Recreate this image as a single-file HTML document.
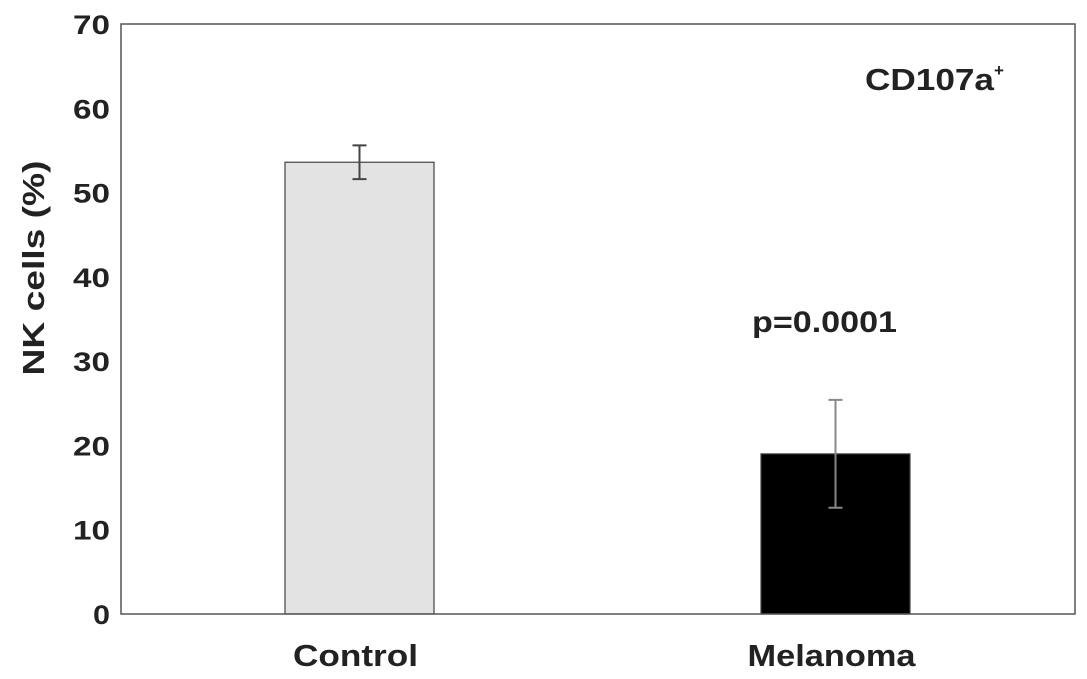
<!DOCTYPE html>
<html><head><meta charset="utf-8"><style>
html,body{margin:0;padding:0;background:#fff;}
svg{display:block;font-family:"Liberation Sans",Arial,sans-serif;}
</style></head><body>
<svg id="chart" width="1087" height="679" viewBox="0 0 1087 679">
<g id="plot"></g>
</svg>
<script>
const categories = ["Control", "Melanoma"];
const values = [53.6, 19.0];
const errors = [2.0, 6.4];
const yTicks = [0, 10, 20, 30, 40, 50, 60, 70];
const NS = "http://www.w3.org/2000/svg";
const L = 121, R = 1075, T = 24, B = 614, yMax = 70;
const yScale = v => B - (v / yMax) * (B - T);
const centers = [359.5, 835.5];
const barW = 149;
const fills = ["#e3e3e3", "#000"];
const errColors = ["#444", "#888"];
const g = document.getElementById("plot");
function mk(tag, attrs, text) {
  const e = document.createElementNS(NS, tag);
  for (const k in attrs) e.setAttribute(k, attrs[k]);
  if (text !== undefined) e.textContent = text;
  g.appendChild(e);
  return e;
}
yTicks.forEach(t => {
  const e = mk("text", {x: 110, y: yScale(t) + 10, "text-anchor": "end", "font-size": "27", "font-weight": "bold", fill: "#222", textLength: t === 0 ? 17 : 37, lengthAdjust: "spacingAndGlyphs"}, String(t));
  
  
});
categories.forEach((c, i) => {
  const x = centers[i];
  const r = mk("rect", {x: x - barW / 2, y: yScale(values[i]), width: barW, height: B - yScale(values[i]), fill: fills[i], stroke: "#444", "stroke-width": 1.2});
  
  
  const hi = yScale(values[i] + errors[i]), lo = yScale(values[i] - errors[i]);
  const eg = mk("path", {d: `M${x},${hi}V${lo}M${x-7},${hi}H${x+7}M${x-7},${lo}H${x+7}`, stroke: errColors[i], "stroke-width": 2, fill: "none"});
  
  
  const lt = mk("text", {x: x - 4, y: 666, "text-anchor": "middle", "font-size": "31", "font-weight": "bold", fill: "#222", textLength: i === 0 ? 125 : 168, lengthAdjust: "spacingAndGlyphs"}, c);
  
  
});
const frame = mk("rect", {x: L, y: T, width: R - L, height: B - T, fill: "none", stroke: "#555", "stroke-width": 1.5});


</script>
<script>
(function(){
const svg=document.getElementById("chart");
const NS="http://www.w3.org/2000/svg";
const t=document.createElementNS(NS,"text");


t.setAttribute("transform","translate(44,268) rotate(-90)");
t.setAttribute("text-anchor","middle");t.setAttribute("font-size","31");t.setAttribute("font-weight","bold");t.setAttribute("fill","#222");
t.setAttribute("textLength","215");t.setAttribute("lengthAdjust","spacingAndGlyphs");
t.textContent="NK cells (%)";svg.appendChild(t);
const a=document.createElementNS(NS,"text");


a.setAttribute("x","865");a.setAttribute("y","90");a.setAttribute("font-size","31");a.setAttribute("font-weight","bold");a.setAttribute("fill","#222");
a.innerHTML='<tspan textLength="129" lengthAdjust="spacingAndGlyphs">CD107a</tspan><tspan font-size="17" dy="-14">+</tspan>';svg.appendChild(a);
const p=document.createElementNS(NS,"text");


p.setAttribute("x","752");p.setAttribute("y","332");p.setAttribute("font-size","30");p.setAttribute("font-weight","bold");p.setAttribute("fill","#222");
p.setAttribute("textLength","145");p.setAttribute("lengthAdjust","spacingAndGlyphs");
p.textContent="p=0.0001";svg.appendChild(p);
})();
</script>
</body></html>
